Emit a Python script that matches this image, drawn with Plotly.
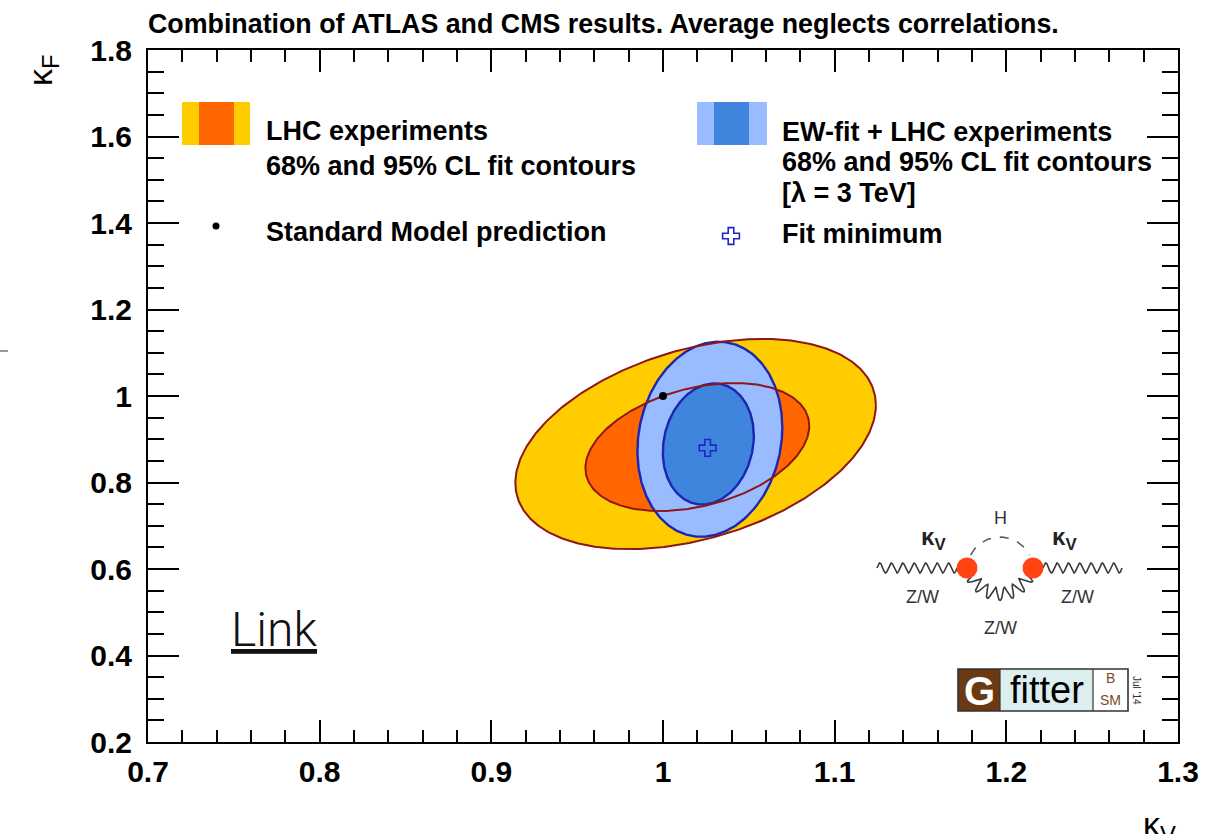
import numpy as np
import plotly.graph_objects as go

W, H = 1231, 834
# frame of the kappa plane, in pixels of the page
FX0, FX1, FY0, FY1 = 148, 1178, 50, 742
FONT = "Liberation Sans, Arial, Helvetica, sans-serif"

# ---- data ---------------------------------------------------------------
# contours: centre (kappa_V, kappa_F), half extents along each axis, correlation
lhc95_center = [1.019, 0.889]
lhc95_half = [0.105, 0.243]
lhc95_rho = 0.37

lhc68_center = [1.020, 0.882]
lhc68_half = [0.0652, 0.148]
lhc68_rho = 0.33

ew95_center = [1.0273, 0.900]
ew95_half = [0.0422, 0.2254]
ew95_rho = 0.12

ew68_center = [1.0264, 0.889]
ew68_half = [0.0265, 0.140]
ew68_rho = 0.135

sm_point = [1.0, 1.0]
fit_minimum = [1.026, 0.880]

x_ticks = [0.7, 0.8, 0.9, 1.0, 1.1, 1.2, 1.3]
y_ticks = [0.2, 0.4, 0.6, 0.8, 1.0, 1.2, 1.4, 1.6, 1.8]

# ---- colours ------------------------------------------------------------
YELLOW = "#FFCC00"
ORANGE = "#FF6600"
LBLUE = "#99BBFF"
DBLUE = "#3F85DD"
RED_LINE = "#8E1616"
BLUE_LINE = "#1C26B0"


def ellipse(center, half, rho, n=361):
    t = np.linspace(0.0, 2.0 * np.pi, n)
    d = np.arccos(rho)
    return center[0] + half[0] * np.cos(t), center[1] + half[1] * np.cos(t - d)


fig = go.Figure()

contours = [
    (lhc95_center, lhc95_half, lhc95_rho, YELLOW, RED_LINE, 2.0),
    (lhc68_center, lhc68_half, lhc68_rho, ORANGE, RED_LINE, 2.0),
    (ew95_center, ew95_half, ew95_rho, LBLUE, BLUE_LINE, 2.4),
    (ew68_center, ew68_half, ew68_rho, DBLUE, BLUE_LINE, 2.4),
]

# filled areas first
for c, h, r, fill, _, _ in contours:
    ex, ey = ellipse(c, h, r)
    fig.add_trace(go.Scatter(x=ex, y=ey, mode="lines", fill="toself",
                             fillcolor=fill, line=dict(width=0),
                             hoverinfo="skip", showlegend=False))
# outlines on top of all fills
for c, h, r, _, lc, lw in [contours[2], contours[3], contours[0], contours[1]]:
    ex, ey = ellipse(c, h, r)
    fig.add_trace(go.Scatter(x=ex, y=ey, mode="lines",
                             line=dict(color=lc, width=lw),
                             hoverinfo="skip", showlegend=False))

fig.add_trace(go.Scatter(x=[sm_point[0]], y=[sm_point[1]], mode="markers",
                         marker=dict(color="black", size=8),
                         showlegend=False))
fig.add_trace(go.Scatter(x=[fit_minimum[0]], y=[fit_minimum[1]], mode="markers",
                         marker=dict(symbol="cross-open", size=14, color="#2424C8",
                                     line=dict(color="#2424C8", width=1.6)),
                         showlegend=False))

# ---- decoration layer in page pixels (x2 / y2) ----------------------------
def deco(x, y, **kw):
    fig.add_trace(go.Scatter(x=x, y=y, xaxis="x2", yaxis="y2",
                             hoverinfo="skip", showlegend=False, **kw))


# legend markers
deco([216], [226], mode="markers", marker=dict(color="black", size=7))
deco([731], [236], mode="markers",
     marker=dict(symbol="cross-open", size=14, color="#2424C8",
                 line=dict(color="#2424C8", width=1.6)))

# small vertex diagram: V V -> H loop
WAVE = "#3A3A3A"
for xa, xb in [(877, 957), (1043, 1122)]:
    s = np.linspace(0, 1, 240)
    wx = xa + (xb - xa) * s
    wy = 568 - 5.0 * np.sin(2 * np.pi * 7 * s)
    deco(wx, wy, mode="lines", line=dict(color=WAVE, width=1.6))

s = np.linspace(0, 1, 400)
ang = np.deg2rad(155 - 130 * s)
rad = 31 + 6.5 * np.sin(2 * np.pi * 6.5 * s)
deco(1000 + rad * np.cos(ang), 563 + rad * np.sin(ang), mode="lines",
     line=dict(color=WAVE, width=1.6))

ang = np.deg2rad(np.linspace(207, 333, 100))
deco(1000 + 33 * np.cos(ang), 570 + 33 * np.sin(ang), mode="lines",
     line=dict(color="#555555", width=1.5, dash="dash"))

deco([967, 1033], [568, 568], mode="markers",
     marker=dict(color="#FF4412", size=21))

# gray dash at the left page edge
deco([0, 8], [351, 351], mode="lines", line=dict(color="#9A9A9A", width=2))

shapes = []


def rect(x0, y0, x1, y1, fill, line=None, lw=0):
    shapes.append(dict(type="rect", xref="x2", yref="y2", x0=x0, y0=y0, x1=x1, y1=y1,
                       fillcolor=fill, line=dict(color=line or fill, width=lw),
                       layer="above"))


# legend swatches
rect(182, 102, 250, 145, YELLOW)
rect(199, 102, 234, 145, ORANGE)
rect(697, 102, 767, 145, LBLUE)
rect(714, 102, 749, 145, DBLUE)

# Gfitter logo
rect(958, 669, 1000, 711, "#6B3A12")
rect(1000, 669, 1093, 711, "#DCEEEE")
rect(1093, 669, 1128, 711, "white")
shapes.append(dict(type="rect", xref="x2", yref="y2", x0=958, y0=669, x1=1128, y1=711,
                   fillcolor="rgba(0,0,0,0)", line=dict(color="#333333", width=1.6),
                   layer="above"))
for xv in (1000, 1093):
    shapes.append(dict(type="line", xref="x2", yref="y2", x0=xv, x1=xv, y0=669, y1=711,
                       line=dict(color="#333333", width=1.2), layer="above"))

annotations = []


def text(x, y, s, size, bold=True, color="black", xanchor="left",
         yanchor="middle", angle=0, family=FONT, weight=None, **fontkw):
    f = dict(family=family, size=size, color=color,
             weight=weight if weight is not None else ("bold" if bold else "normal"))
    f.update(fontkw)
    annotations.append(dict(x=x, y=y, xref="x2", yref="y2", text=s, showarrow=False,
                            xanchor=xanchor, yanchor=yanchor, textangle=angle,
                            font=f))


text(146, 24, "Combination of ATLAS and CMS results. Average neglects correlations.", 26.8)

text(264, 131, "LHC experiments", 27)
text(264, 166, "68% and 95% CL fit contours", 27)
text(264, 232, "Standard Model prediction", 27)

text(780, 132, "EW-fit + LHC experiments", 27)
text(780, 162, "68% and 95% CL fit contours", 27)
text(780, 193, "[λ = 3 TeV]", 27)
text(780, 234, "Fit minimum", 27)

# axis titles
text(42, 70, "κ<sub>F</sub>", 34, bold=False, xanchor="center", angle=-90)
text(1178, 826, "κ<sub>V</sub>", 34, bold=False, xanchor="right")

# diagram labels
text(933, 538, "κ<sub>V</sub>", 24, xanchor="center", color="#222222")
text(1064, 538, "κ<sub>V</sub>", 24, xanchor="center", color="#222222")
text(1000, 518, "H", 18, bold=False, xanchor="center", color="#333333")
text(922, 597, "Z/W", 18, bold=False, xanchor="center", color="#333333")
text(1077, 597, "Z/W", 18, bold=False, xanchor="center", color="#333333")
text(1000, 628, "Z/W", 18, bold=False, xanchor="center", color="#333333")

# logo texts
text(979, 691, "G", 40, xanchor="center", color="white")
text(1047, 690, "fitter", 38, bold=False, xanchor="center", color="black")
text(1110, 678, "B", 14, bold=False, xanchor="center", color="#7A4A1E")
text(1110, 700, "SM", 14, bold=False, xanchor="center", color="#7A4A1E")
text(1137, 690, "Jul '14", 10, bold=False, xanchor="center", color="#333333", angle=90)

# hyperlink-style label
text(229, 629, "Link", 48, weight=300, family="Roboto, Lato, sans-serif",
     color="#111111", lineposition="under")

axis_common = dict(
    showgrid=False, zeroline=False, showline=True, linecolor="black", linewidth=2,
    mirror="allticks", ticks="inside", tickcolor="black", tickwidth=2,
    tickfont=dict(family=FONT, size=30, color="black", weight="bold"),
)

fig.update_layout(
    width=W, height=H, margin=dict(l=0, r=0, t=0, b=0, pad=0),
    paper_bgcolor="white", plot_bgcolor="rgba(0,0,0,0)",
    showlegend=False,
    xaxis=dict(domain=[FX0 / W, FX1 / W], range=[0.7, 1.3], anchor="y",
               tickmode="array", tickvals=x_ticks,
               ticktext=[f"{v:g}" for v in x_ticks], ticklen=22,
               ticklabelstandoff=2,
               minor=dict(dtick=0.02, tick0=0.7, ticks="inside", ticklen=12,
                          tickwidth=2, tickcolor="black"),
               automargin=False, **axis_common),
    yaxis=dict(domain=[(H - FY1) / H, (H - FY0) / H], range=[0.2, 1.8], anchor="x",
               tickmode="array", tickvals=y_ticks,
               ticktext=[f"{v:g}" for v in y_ticks], ticklen=31,
               ticklabelstandoff=8,
               minor=dict(dtick=0.05, tick0=0.2, ticks="inside", ticklen=16,
                          tickwidth=2, tickcolor="black"),
               automargin=False, **axis_common),
    xaxis2=dict(domain=[0, 1], range=[0, W], anchor="y2", visible=False,
                fixedrange=True),
    yaxis2=dict(domain=[0, 1], range=[H, 0], anchor="x2", visible=False,
                fixedrange=True),
    shapes=shapes,
    annotations=annotations,
)

fig.write_html("out.html")
